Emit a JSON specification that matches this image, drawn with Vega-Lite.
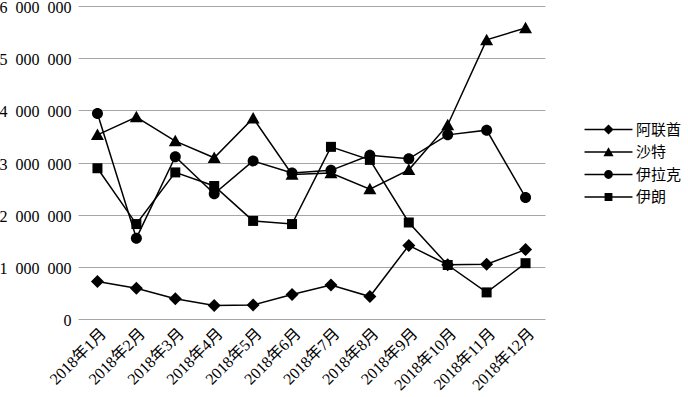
{
  "$schema": "https://vega.github.io/schema/vega-lite/v6.json",
  "width": 467,
  "height": 313,
  "autosize": "none",
  "padding": {"left": 78, "top": 6, "right": 143, "bottom": 78},
  "background": "white",
  "config": {
    "view": {"stroke": null},
    "font": "Liberation Serif, Noto Sans CJK SC",
    "locale": {"number": {"decimal": ".", "thousands": "\u2002", "grouping": [3], "currency": ["", ""]}}
  },
  "data": {
    "values": [
      {"month": "2018年1月", "country": "阿联酋", "value": 720000},
      {"month": "2018年2月", "country": "阿联酋", "value": 590000},
      {"month": "2018年3月", "country": "阿联酋", "value": 390000},
      {"month": "2018年4月", "country": "阿联酋", "value": 260000},
      {"month": "2018年5月", "country": "阿联酋", "value": 270000},
      {"month": "2018年6月", "country": "阿联酋", "value": 470000},
      {"month": "2018年7月", "country": "阿联酋", "value": 650000},
      {"month": "2018年8月", "country": "阿联酋", "value": 430000},
      {"month": "2018年9月", "country": "阿联酋", "value": 1410000},
      {"month": "2018年10月", "country": "阿联酋", "value": 1040000},
      {"month": "2018年11月", "country": "阿联酋", "value": 1050000},
      {"month": "2018年12月", "country": "阿联酋", "value": 1330000},
      {"month": "2018年1月", "country": "沙特", "value": 3530000},
      {"month": "2018年2月", "country": "沙特", "value": 3870000},
      {"month": "2018年3月", "country": "沙特", "value": 3410000},
      {"month": "2018年4月", "country": "沙特", "value": 3090000},
      {"month": "2018年5月", "country": "沙特", "value": 3850000},
      {"month": "2018年6月", "country": "沙特", "value": 2770000},
      {"month": "2018年7月", "country": "沙特", "value": 2800000},
      {"month": "2018年8月", "country": "沙特", "value": 2490000},
      {"month": "2018年9月", "country": "沙特", "value": 2860000},
      {"month": "2018年10月", "country": "沙特", "value": 3720000},
      {"month": "2018年11月", "country": "沙特", "value": 5350000},
      {"month": "2018年12月", "country": "沙特", "value": 5580000},
      {"month": "2018年1月", "country": "伊拉克", "value": 3940000},
      {"month": "2018年2月", "country": "伊拉克", "value": 1550000},
      {"month": "2018年3月", "country": "伊拉克", "value": 3110000},
      {"month": "2018年4月", "country": "伊拉克", "value": 2400000},
      {"month": "2018年5月", "country": "伊拉克", "value": 3030000},
      {"month": "2018年6月", "country": "伊拉克", "value": 2800000},
      {"month": "2018年7月", "country": "伊拉克", "value": 2850000},
      {"month": "2018年8月", "country": "伊拉克", "value": 3140000},
      {"month": "2018年9月", "country": "伊拉克", "value": 3070000},
      {"month": "2018年10月", "country": "伊拉克", "value": 3530000},
      {"month": "2018年11月", "country": "伊拉克", "value": 3620000},
      {"month": "2018年12月", "country": "伊拉克", "value": 2330000},
      {"month": "2018年1月", "country": "伊朗", "value": 2890000},
      {"month": "2018年2月", "country": "伊朗", "value": 1820000},
      {"month": "2018年3月", "country": "伊朗", "value": 2810000},
      {"month": "2018年4月", "country": "伊朗", "value": 2550000},
      {"month": "2018年5月", "country": "伊朗", "value": 1880000},
      {"month": "2018年6月", "country": "伊朗", "value": 1820000},
      {"month": "2018年7月", "country": "伊朗", "value": 3300000},
      {"month": "2018年8月", "country": "伊朗", "value": 3050000},
      {"month": "2018年9月", "country": "伊朗", "value": 1850000},
      {"month": "2018年10月", "country": "伊朗", "value": 1035000},
      {"month": "2018年11月", "country": "伊朗", "value": 510000},
      {"month": "2018年12月", "country": "伊朗", "value": 1070000}
    ]
  },
  "encoding": {
    "x": {
      "field": "month",
      "type": "ordinal",
      "sort": ["2018年1月", "2018年2月", "2018年3月", "2018年4月", "2018年5月", "2018年6月", "2018年7月", "2018年8月", "2018年9月", "2018年10月", "2018年11月", "2018年12月"],
      "scale": {"type": "point", "padding": 0.5},
      "axis": {
        "title": null,
        "domain": false,
        "ticks": false,
        "grid": false,
        "labelAngle": -45,
        "labelFontSize": 16,
        "labelColor": "black",
        "labelPadding": 6,
        "labelFont": "Liberation Serif, Noto Sans CJK SC"
      }
    },
    "y": {
      "field": "value",
      "type": "quantitative",
      "scale": {"domain": [0, 6000000], "nice": false},
      "axis": {
        "title": null,
        "values": [0, 1000000, 2000000, 3000000, 4000000, 5000000, 6000000],
        "format": ",d",
        "domain": false,
        "ticks": false,
        "grid": true,
        "gridColor": "#a6a6a6",
        "gridWidth": 1,
        "labelFontSize": 16,
        "labelColor": "black",
        "labelPadding": 7,
        "labelOffset": 1.5,
        "labelFont": "Liberation Serif"
      }
    }
  },
  "layer": [
    {
      "mark": {"type": "line", "color": "black", "strokeWidth": 1.5},
      "encoding": {"detail": {"field": "country", "type": "nominal"}}
    },
    {
      "mark": {"type": "point", "filled": true, "color": "black", "opacity": 1, "size": 100},
      "encoding": {
        "shape": {
          "field": "country",
          "type": "nominal",
          "scale": {
            "domain": ["阿联酋", "沙特", "伊拉克", "伊朗"],
            "range": [
              "M0,-1.3L1.3,0L0,1.3L-1.3,0Z",
              "M0,-1.25L1.3,1.05L-1.3,1.05Z",
              "M1.1,0A1.1,1.1,0,1,1,-1.1,0A1.1,1.1,0,1,1,1.1,0Z",
              "M-1,-1H1V1H-1Z"
            ]
          },
          "legend": null
        }
      }
    },
    {
      "mark": {"type": "point", "filled": true, "color": "black", "opacity": 0, "size": 85},
      "encoding": {
        "shape": {
          "field": "country",
          "type": "nominal",
          "scale": {
            "domain": ["阿联酋", "沙特", "伊拉克", "伊朗"],
            "range": [
              "M-5.2,-0.16H5.2V0.16H-5.2Z M0,-1.1L1.1,0L0,1.1L-1.1,0Z",
              "M-5.2,-0.16H5.2V0.16H-5.2Z M0,-1.05L1.1,0.9L-1.1,0.9Z",
              "M-5.2,-0.16H5.2V0.16H-5.2Z M0.95,0A0.95,0.95,0,1,1,-0.95,0A0.95,0.95,0,1,1,0.95,0Z",
              "M-5.2,-0.16H5.2V0.16H-5.2Z M-0.85,-0.85H0.85V0.85H-0.85Z"
            ]
          },
          "legend": {
            "title": null,
            "orient": "none",
            "legendX": 523,
            "legendY": 116,
            "labelFontSize": 15,
            "labelColor": "black",
            "labelFont": "Liberation Serif, Noto Sans CJK SC",
            "labelOffset": 20,
            "rowPadding": 6.5,
            "symbolSize": 85,
            "symbolOpacity": 1,
            "symbolFillColor": "black",
            "symbolStrokeWidth": 0
          }
        }
      }
    }
  ],
  "resolve": {"scale": {"shape": "independent"}, "legend": {"shape": "independent"}}
}
